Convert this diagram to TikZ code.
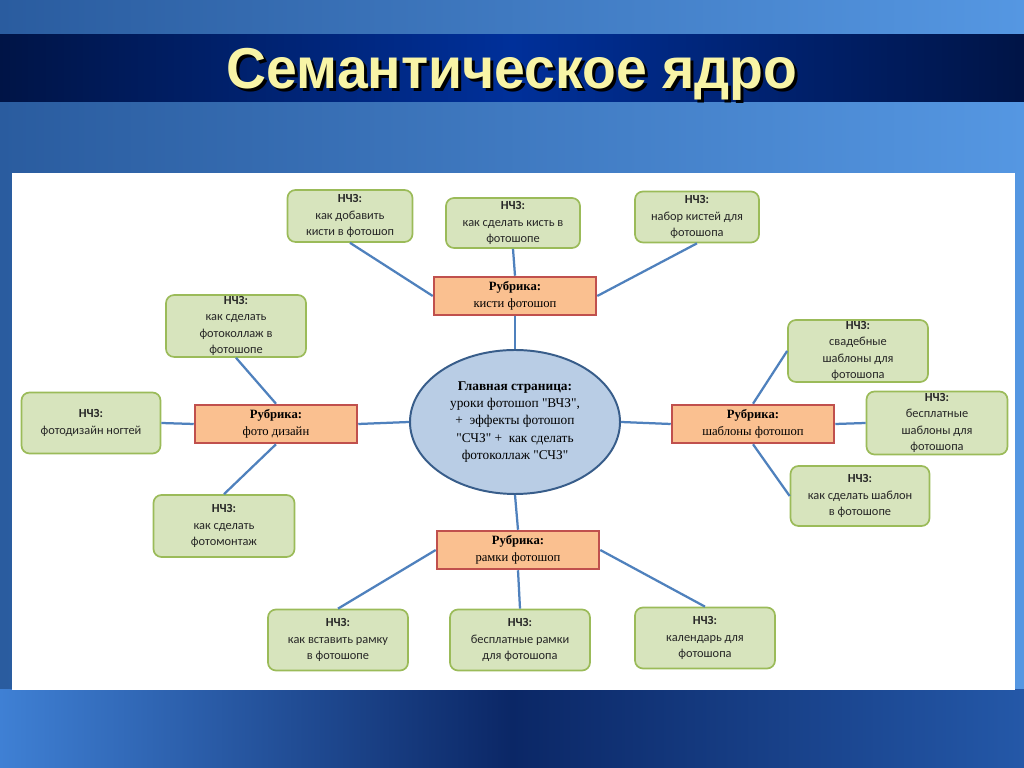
\documentclass[tikz,border=0pt]{standalone}
\usepackage{fontspec}
\setmainfont{Liberation Serif}
\newfontfamily\boxfont{Carlito}
\newfontfamily\titlefont{Liberation Sans}
\usetikzlibrary{shapes.geometric}
\definecolor{nchzfill}{HTML}{D7E4BD}
\definecolor{nchzline}{HTML}{9BBB59}
\definecolor{rubfill}{HTML}{FAC090}
\definecolor{rubline}{HTML}{C0504D}
\definecolor{mainfill}{HTML}{B9CDE5}
\definecolor{mainline}{HTML}{385D8A}
\definecolor{linkline}{HTML}{4F81BD}
\definecolor{titleyellow}{HTML}{F8F4A6}
\definecolor{bgleft}{HTML}{2A5C9F}
\definecolor{bgright}{HTML}{5597E2}
\definecolor{bandedge}{HTML}{001446}
\definecolor{bandmid}{HTML}{00309A}
\definecolor{footleft}{HTML}{3F80D4}
\definecolor{footmid}{HTML}{0B2766}
\definecolor{footright}{HTML}{2458A8}

\tikzset{
  nchz/.style={draw=nchzline, line width=1.2pt, fill=nchzfill, rounded corners=0.2cm,
    align=center, inner sep=1pt, text=black!85,
    font=\boxfont\fontsize{8.8}{11.6}\selectfont},
  rubrika/.style={draw=rubline, line width=1.8pt, fill=rubfill, align=center,
    minimum width=4.05cm, minimum height=0.95cm, inner sep=1pt,
    font=\fontsize{9}{12}\selectfont},
  mainpage/.style={ellipse, draw=mainline, line width=1.4pt, fill=mainfill,
    minimum width=5.25cm, minimum height=3.6cm, align=center, inner sep=0pt,
    font=\fontsize{9.5}{12.4}\selectfont},
  link/.style={draw=linkline, line width=1.6pt}
}

\begin{document}
\begin{tikzpicture}
            \useasboundingbox (0,0) rectangle (25.6,19.2);
            %Background
            \shade [left color = bgleft, right color = bgright] (0,0) rectangle (25.6,19.2);
            \shade [left color = bandedge, right color = bandedge, middle color = bandmid]
            (0,16.65) rectangle (25.6,18.325);
            \shade [left color = footleft, right color = footright, middle color = footmid]
            (0,0) rectangle (25.6,1.95);
            \fill [white] (0.3,1.95) rectangle (25.375,14.875);
            %Title
            \node [text = black, font = \titlefont\bfseries\fontsize{41}{41}\selectfont]
            (titleshadow)at(12.875,17.255){\scalebox{0.96}[1]{Семантическое ядро}};
            \node [text = titleyellow, font = \titlefont\bfseries\fontsize{41}{41}\selectfont]
            (title)at(12.8,17.33){\scalebox{0.96}[1]{Семантическое ядро}};

            %Main page
            \node [mainpage] (main)at(12.875,8.65){\textbf{Главная страница:}\\уроки фотошоп \textquotedbl ВЧЗ\textquotedbl ,\\+\ \ эффекты фотошоп\\\textquotedbl СЧЗ\textquotedbl\ +\ \ как сделать\\фотоколлаж \textquotedbl СЧЗ\textquotedbl};

            %Rubrics
            \node [rubrika] (r1)at(12.875,11.8){\textbf{Рубрика:}\\кисти фотошоп};
            \node [rubrika] (r2)at(6.9,8.6){\textbf{Рубрика:}\\фото дизайн};
            \node [rubrika] (r3)at(18.825,8.6){\textbf{Рубрика:}\\шаблоны фотошоп};
            \node [rubrika] (r4)at(12.95,5.45){\textbf{Рубрика:}\\рамки фотошоп};

            %Top
            \node [nchz, minimum width = 3.125cm, minimum height = 1.3cm]
            (n1)at(8.75,13.8){\textbf{НЧЗ:}\\как добавить\\кисти в фотошоп};
            \node [nchz, minimum width = 3.35cm, minimum height = 1.25cm]
            (n2)at(12.825,13.625){\textbf{НЧЗ:}\\как сделать кисть в\\фотошопе};
            \node [nchz, minimum width = 3.1cm, minimum height = 1.275cm]
            (n3)at(17.425,13.775){\textbf{НЧЗ:}\\набор кистей для\\фотошопа};
            %Left
            \node [nchz, minimum width = 3.5cm, minimum height = 1.525cm]
            (n4)at(5.9,11.05){\textbf{НЧЗ:}\\как сделать\\фотоколлаж в\\фотошопе};
            \node [nchz, minimum width = 3.475cm, minimum height = 1.525cm]
            (n5)at(2.275,8.625){\textbf{НЧЗ:}\\фотодизайн ногтей};
            \node [nchz, minimum width = 3.525cm, minimum height = 1.55cm]
            (n6)at(5.6,6.05){\textbf{НЧЗ:}\\как сделать\\фотомонтаж};
            %Right
            \node [nchz, minimum width = 3.5cm, minimum height = 1.55cm]
            (n7)at(21.45,10.425){\textbf{НЧЗ:}\\свадебные\\шаблоны для\\фотошопа};
            \node [nchz, minimum width = 3.525cm, minimum height = 1.575cm]
            (n8)at(23.425,8.625){\textbf{НЧЗ:}\\бесплатные\\шаблоны для\\фотошопа};
            \node [nchz, minimum width = 3.475cm, minimum height = 1.5cm]
            (n9)at(21.5,6.8){\textbf{НЧЗ:}\\как сделать шаблон\\в фотошопе};
            %Bottom
            \node [nchz, minimum width = 3.5cm, minimum height = 1.525cm]
            (n10)at(8.45,3.2){\textbf{НЧЗ:}\\как вставить рамку\\в фотошопе};
            \node [nchz, minimum width = 3.5cm, minimum height = 1.525cm]
            (n11)at(13,3.2){\textbf{НЧЗ:}\\бесплатные рамки\\для фотошопа};
            \node [nchz, minimum width = 3.5cm, minimum height = 1.525cm]
            (n12)at(17.625,3.25){\textbf{НЧЗ:}\\календарь для\\фотошопа};

            \draw [link](n1.south)--(r1.west);
            \draw [link](n2.south)--(r1.north);
            \draw [link](n3.south)--(r1.east);
            \draw [link](r1.south)--(main.north);
            \draw [link](n4.south)--(r2.north);
            \draw [link](n5.east)--(r2.west);
            \draw [link](r2.south)--(n6.north);
            \draw [link](r2.east)--(main.west);
            \draw [link](main.east)--(r3.west);
            \draw [link](r3.north)--(n7.west);
            \draw [link](r3.east)--(n8.west);
            \draw [link](r3.south)--(n9.west);
            \draw [link](main.south)--(r4.north);
            \draw [link](r4.west)--(n10.north);
            \draw [link](r4.south)--(n11.north);
            \draw [link](r4.east)--(n12.north);

        \end{tikzpicture}
\end{document}
